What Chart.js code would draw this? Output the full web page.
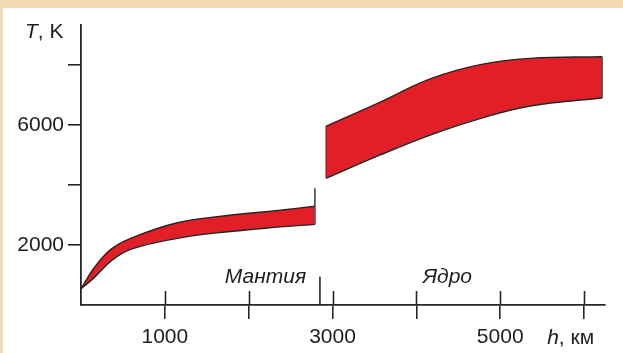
<!DOCTYPE html>
<html>
<head>
<meta charset="utf-8">
<script src="https://cdn.jsdelivr.net/npm/chart.js@4.4.1/dist/chart.umd.min.js"></script>
<style>
  html, body { margin: 0; padding: 0; }
  body { width: 623px; height: 353px; background: #f2d9b4; position: relative; overflow: hidden; }
  #box { position: absolute; left: 3px; top: 8px; width: 620px; height: 345px; background: #fff; }
</style>
</head>
<body>
<div id="box"><canvas id="tempChart"></canvas></div>
<script>
// depth h (km) and temperature T (K)
var mantleH      = [0, 160, 360, 600, 1150, 1750, 2350, 2790];
var mantleTop    = [540, 1250, 1860, 2230, 2740, 2980, 3150, 3290];
var mantleBottom = [540, 920, 1470, 1860, 2220, 2440, 2595, 2685];
var mantleMarkTop = 3885;   // end line of the mantle band sticks up to here

var coreH      = [2925, 3570, 4165, 4760, 5360, 6215];
var coreTop    = [5960, 6760, 7530, 8005, 8215, 8270];
var coreBottom = [4225, 5000, 5660, 6210, 6630, 6895];

var boundaryH = 2850;       // mantle / core mark on the h axis
var boundaryTop = 940;

var xTicks = [1000, 2000, 3000, 4000, 5000, 6000];
var xLabels = ['1000', '', '3000', '', '5000', ''];
var yTicks = [2000, 4000, 6000, 8000];
var yLabels = ['2000', '', '6000', ''];

var FONT = "'Liberation Sans', Arial, sans-serif";
var RED = '#e21f26';
var INK = '#262626';

function pts(xs, ys) {
  return xs.map((x, i) => ({x: x, y: ys[i]}));
}

var band = {borderColor: INK, borderWidth: 1.4, pointRadius: 0, tension: 0.4};
var edge = {borderColor: INK, borderWidth: 1.4, pointRadius: 0, fill: false};

var datasets = [
  Object.assign({data: pts(mantleH, mantleBottom), fill: false}, band),
  Object.assign({data: pts(mantleH, mantleTop), fill: '-1', backgroundColor: RED}, band),
  Object.assign({data: pts(coreH, coreBottom), fill: false}, band),
  Object.assign({data: pts(coreH, coreTop), fill: '-1', backgroundColor: RED}, band),
  Object.assign({data: [{x: coreH[0], y: coreBottom[0]}, {x: coreH[0], y: coreTop[0]}]}, edge),
  Object.assign({data: [{x: coreH[coreH.length - 1], y: coreBottom[coreBottom.length - 1]},
                        {x: coreH[coreH.length - 1], y: coreTop[coreTop.length - 1]}]}, edge),
  Object.assign({data: [{x: mantleH[mantleH.length - 1], y: mantleBottom[mantleBottom.length - 1]},
                        {x: mantleH[mantleH.length - 1], y: mantleMarkTop}]}, edge),
  Object.assign({data: [{x: boundaryH, y: 0}, {x: boundaryH, y: boundaryTop}]}, edge, {borderWidth: 1.6})
];

// inner halves of the h ticks and the text labels
var extras = {
  id: 'extras',
  afterDraw(chart) {
    var ctx = chart.ctx, xs = chart.scales.x, ys = chart.scales.y, a = chart.chartArea;
    ctx.save();
    ctx.strokeStyle = INK;
    ctx.lineWidth = 1.6;
    xTicks.forEach(v => {
      var px = Math.round(xs.getPixelForValue(v)) + 0.5;
      ctx.beginPath();
      ctx.moveTo(px, a.bottom);
      ctx.lineTo(px, a.bottom - 14);
      ctx.stroke();
    });

    ctx.fillStyle = '#1e1e1e';
    ctx.textBaseline = 'middle';
    ctx.textAlign = 'center';
    ctx.font = 'italic 21px ' + FONT;
    ctx.fillText('Мантия', xs.getPixelForValue(2200), ys.getPixelForValue(940));
    ctx.fillText('Ядро', xs.getPixelForValue(4370), ys.getPixelForValue(940));

    // T, K
    ctx.textAlign = 'left';
    var tx = 22, ty = a.top + 8;
    ctx.font = 'italic 21px ' + FONT;
    ctx.fillText('T', tx, ty);
    var w = ctx.measureText('T').width;
    ctx.font = '21px ' + FONT;
    ctx.fillText(', K', tx + w, ty);

    // h, км
    var hx = xs.getPixelForValue(5560), hy = a.bottom + 33;
    ctx.font = 'italic 21px ' + FONT;
    ctx.fillText('h', hx, hy);
    w = ctx.measureText('h').width;
    ctx.font = '21px ' + FONT;
    ctx.fillText(', км', hx + w, hy);
    ctx.restore();
  }
};

var ctx = document.getElementById('tempChart').getContext('2d');
var chart = new Chart(ctx, {
  type: 'line',
  data: {datasets: datasets},
  options: {
    responsive: true,
    maintainAspectRatio: false,
    animation: false,
    layout: {padding: {top: 14, right: 18, left: 0, bottom: 0}},
    plugins: {legend: {display: false}, tooltip: {enabled: false}},
    scales: {
      x: {
        type: 'linear',
        min: 0,
        max: 6250,
        afterBuildTicks: s => { s.ticks = xTicks.map(v => ({value: v})); },
        afterFit: s => { s.height = 48; },
        border: {display: true, color: INK, width: 1.8},
        grid: {drawOnChartArea: false, drawTicks: true, tickLength: 14, color: INK, lineWidth: 1.6},
        ticks: {
          color: '#1e1e1e',
          font: {family: FONT, size: 21},
          padding: 6,
          maxRotation: 0,
          callback: (v) => xLabels[xTicks.indexOf(v)]
        }
      },
      y: {
        type: 'linear',
        min: 0,
        max: 9340,
        afterBuildTicks: s => { s.ticks = yTicks.map(v => ({value: v})); },
        afterFit: s => { s.width = 78; },
        border: {display: true, color: INK, width: 1.8},
        grid: {drawOnChartArea: false, drawTicks: true, tickLength: 13, color: INK, lineWidth: 1.6},
        ticks: {
          color: '#1e1e1e',
          font: {family: FONT, size: 21},
          padding: 4,
          callback: (v) => yLabels[yTicks.indexOf(v)]
        }
      }
    }
  },
  plugins: [extras]
});
</script>
</body>
</html>
